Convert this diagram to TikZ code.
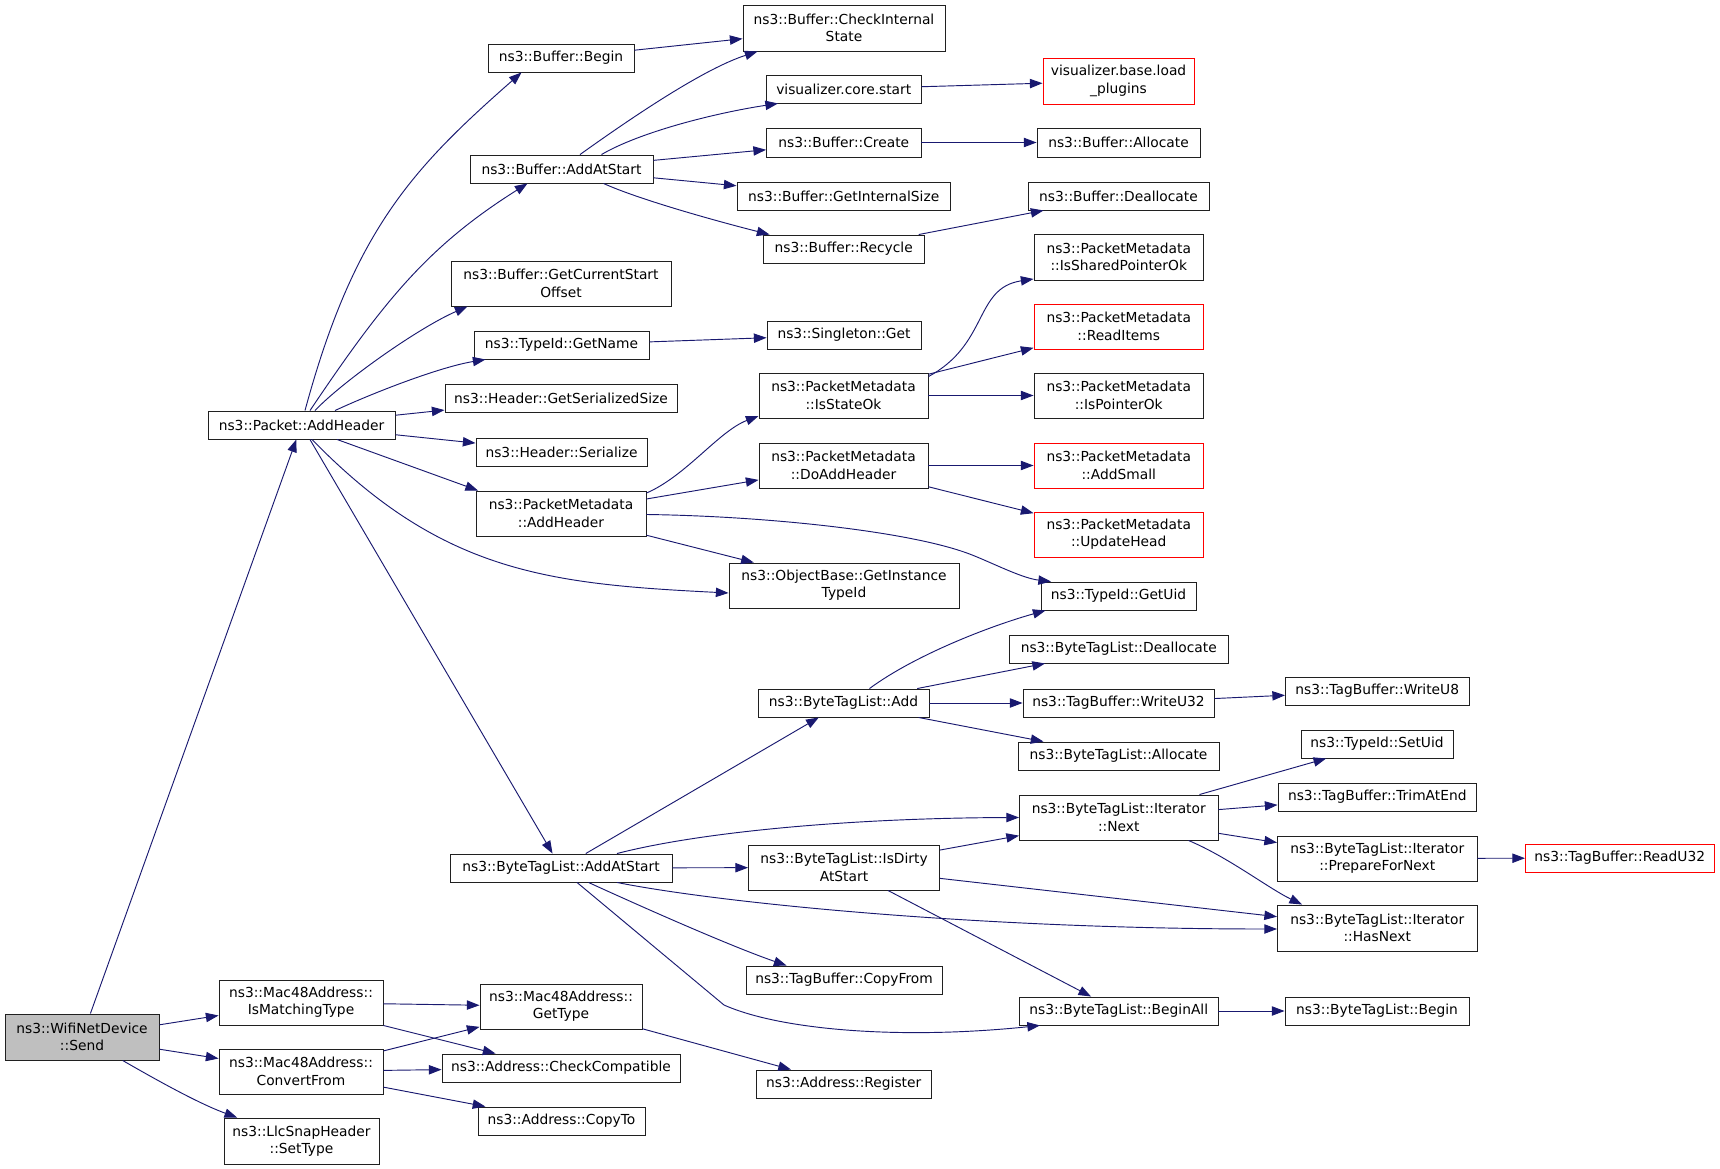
\documentclass[tikz,border=0pt]{standalone}
\usepackage{fontspec}
\setmainfont{DejaVu Sans}
\usetikzlibrary{arrows.meta,calc}
\definecolor{edgec}{HTML}{191970}
\definecolor{sendfill}{HTML}{BFBFBF}
\definecolor{boxc}{HTML}{202020}
\newcommand{\nd}[7]{\node[#1, minimum width={(#5-#3)*0.75pt}, minimum height={(#6-#4)*0.75pt}] (#2) at ({(#3+#5)/2},{(#4+#6)/2}) {#7};}
\begin{document}
\begin{tikzpicture}[x=0.75pt,y=-0.75pt,
  box/.style={draw=boxc, line width=0.7pt, fill=white, inner sep=0pt, align=center, font=\fontsize{10.35pt}{13pt}\selectfont},
  redbox/.style={box, draw=red},
  greybox/.style={box, fill=sendfill},
  e/.style={draw=edgec, line width=0.7pt, -{Triangle[length=9.5pt,width=7pt]}}]
\useasboundingbox (0,0) rectangle (1720,1169);
\fill[white] (0,0) rectangle (1720,1169);
% column 0/1
\nd{greybox}{send}{5}{1014}{159}{1060}{ns3::WifiNetDevice\\::Send}
\nd{box}{pah}{208}{411}{395}{439}{ns3::Packet::AddHeader}
\nd{box}{imt}{219}{980}{383}{1025}{ns3::Mac48Address::\\IsMatchingType}
\nd{box}{cvf}{219}{1049}{383}{1094}{ns3::Mac48Address::\\ConvertFrom}
\nd{box}{llc}{224}{1118}{379}{1164}{ns3::LlcSnapHeader\\::SetType}
% column 2
\nd{box}{bbeg}{488}{44}{634}{72}{ns3::Buffer::Begin}
\nd{box}{bads}{470}{155}{653}{183}{ns3::Buffer::AddAtStart}
\nd{box}{gcso}{451}{261}{671}{306}{ns3::Buffer::GetCurrentStart\\Offset}
\nd{box}{gname}{474}{331}{649}{359}{ns3::TypeId::GetName}
\nd{box}{gss}{445}{384}{677}{412}{ns3::Header::GetSerializedSize}
\nd{box}{hser}{476}{438}{647}{466}{ns3::Header::Serialize}
\nd{box}{pmah}{476}{491}{646}{536}{ns3::PacketMetadata\\::AddHeader}
\nd{box}{btlas}{450}{854}{672}{882}{ns3::ByteTagList::AddAtStart}
\nd{box}{gtype}{480}{984}{642}{1029}{ns3::Mac48Address::\\GetType}
\nd{box}{chk}{442}{1054}{680}{1082}{ns3::Address::CheckCompatible}
\nd{box}{cpto}{478}{1107}{645}{1135}{ns3::Address::CopyTo}
% column 3
\nd{box}{cis}{743}{5}{945}{51}{ns3::Buffer::CheckInternal\\State}
\nd{box}{vcs}{766.5}{75}{921}{103}{visualizer.core.start}
\nd{box}{bcre}{766.5}{128}{921}{157}{ns3::Buffer::Create}
\nd{box}{gis}{737}{182}{950.5}{210}{ns3::Buffer::GetInternalSize}
\nd{box}{brec}{763}{235}{924.5}{263}{ns3::Buffer::Recycle}
\nd{box}{sget}{767}{321}{921}{349}{ns3::Singleton::Get}
\nd{box}{iso}{759}{373}{928}{418}{ns3::PacketMetadata\\::IsStateOk}
\nd{box}{doah}{759}{443}{928}{488}{ns3::PacketMetadata\\::DoAddHeader}
\nd{box}{ogit}{729}{563}{959}{608}{ns3::ObjectBase::GetInstance\\TypeId}
\nd{box}{btladd}{758}{689}{929}{717}{ns3::ByteTagList::Add}
\nd{box}{ida}{748.5}{845}{939.5}{890}{ns3::ByteTagList::IsDirty\\AtStart}
\nd{box}{cpf}{746}{966}{942}{994}{ns3::TagBuffer::CopyFrom}
\nd{box}{areg}{756.5}{1070}{931}{1098}{ns3::Address::Register}
% column 4
\nd{redbox}{lpl}{1043}{58}{1194}{104}{visualizer.base.load\\\_plugins}
\nd{box}{balloc}{1037}{128}{1200}{157}{ns3::Buffer::Allocate}
\nd{box}{bdeal}{1028}{182}{1209}{210}{ns3::Buffer::Deallocate}
\nd{box}{ispo}{1034}{234}{1203.5}{280}{ns3::PacketMetadata\\::IsSharedPointerOk}
\nd{redbox}{ritems}{1034}{304}{1203.5}{349}{ns3::PacketMetadata\\::ReadItems}
\nd{box}{ipo}{1034}{373}{1203.5}{418}{ns3::PacketMetadata\\::IsPointerOk}
\nd{redbox}{asm}{1034}{443}{1203.5}{488}{ns3::PacketMetadata\\::AddSmall}
\nd{redbox}{uhead}{1034}{512}{1203.5}{557}{ns3::PacketMetadata\\::UpdateHead}
\nd{box}{guid}{1041}{582}{1196}{610}{ns3::TypeId::GetUid}
\nd{box}{btldeal}{1009}{635}{1228.5}{663}{ns3::ByteTagList::Deallocate}
\nd{box}{wu32}{1023}{689}{1214}{717}{ns3::TagBuffer::WriteU32}
\nd{box}{btlalloc}{1018}{742}{1219}{770}{ns3::ByteTagList::Allocate}
\nd{box}{next}{1019.5}{795}{1218}{840}{ns3::ByteTagList::Iterator\\::Next}
\nd{box}{ball}{1019.5}{997}{1218}{1025}{ns3::ByteTagList::BeginAll}
% column 5/6
\nd{box}{wu8}{1285.5}{677}{1469}{705}{ns3::TagBuffer::WriteU8}
\nd{box}{suid}{1301}{730}{1453}{758}{ns3::TypeId::SetUid}
\nd{box}{trim}{1278}{783}{1476.5}{811}{ns3::TagBuffer::TrimAtEnd}
\nd{box}{pfn}{1277.5}{836}{1477}{881}{ns3::ByteTagList::Iterator\\::PrepareForNext}
\nd{redbox}{rd32}{1525.5}{844}{1714}{872}{ns3::TagBuffer::ReadU32}
\nd{box}{hnext}{1277.5}{905}{1477}{951}{ns3::ByteTagList::Iterator\\::HasNext}
\nd{box}{btlbeg}{1285}{997}{1469}{1025}{ns3::ByteTagList::Begin}
% edges
\draw[e] (send) -- (pah);
\draw[e] (send) -- (imt);
\draw[e] (send) -- (cvf);
\draw[e] (send) .. controls (160,1082) and (200,1104) .. (llc);
\draw[e] ($(pah.north)+(3.5,0)$) .. controls (353.6,231) and (412,168.7) .. ($(bbeg.south west)+(34,0)$);
\draw[e] ($(pah.north)+(8.5,0)$) .. controls (383.7,301) and (428,246) .. ($(bads.south west)+(58,0)$);
\draw[e] ($(pah.north)+(13.5,0)$) .. controls (342,382) and (418,328) .. ($(gcso.south west)+(17,0)$);
\draw[e] ($(pah.north)+(33.5,0)$) .. controls (375,392) and (440,367) .. ($(gname.south west)+(12,0)$);
\draw[e] (pah) -- (gss);
\draw[e] (pah) -- (hser);
\draw[e] ($(pah.south)+(35.5,0)$) -- ($(pmah.north west)+(2.5,0)$);
\draw[e] ($(pah.south)+(10.5,0)$) .. controls (442,573) and (549,584) .. ($(ogit.west)+(0,7.5)$);
\draw[e] (pah) -- (btlas);
\draw[e] (bbeg) -- (cis);
\draw[e] ($(bads.north)+(18.5,0)$) .. controls (620,126) and (700,70) .. ($(cis.south west)+(15,0)$);
\draw[e] ($(bads.north)+(40,0)$) .. controls (640,132) and (715,113) .. ($(vcs.south west)+(12,0)$);
\draw[e] (bads) -- (bcre);
\draw[e] (bads) -- (gis);
\draw[e] ($(bads.south)+(42,0)$) .. controls (640,200) and (720,222) .. ($(brec.north west)+(7,0)$);
\draw[e] (vcs) -- (lpl);
\draw[e] (bcre) -- (balloc);
\draw[e] (brec) -- (bdeal);
\draw[e] (gname) -- (sget);
\draw[e] ($(pmah.north east)+(0,2.5)$) .. controls (686,476) and (719,431) .. ($(iso.west)+(0,20.5)$);
\draw[e] (pmah) -- (doah);
\draw[e] ($(pmah.east)+(0,1)$) .. controls (760,516) and (900,530) .. (964,552) .. controls (985,559) and (1020,578) .. ($(guid.north west)+(10.5,0)$);
\draw[e] (pmah) -- (ogit);
\draw[e] ($(iso.north east)+(0,4)$) .. controls (989,344) and (974,288) .. ($(ispo.south west)+(0,-1.5)$);
\draw[e] (iso) -- (ritems);
\draw[e] (iso) -- (ipo);
\draw[e] (doah) -- (asm);
\draw[e] (doah) -- (uhead);
\draw[e] (btlas) -- (btladd);
\draw[e] ($(btlas.north)+(56,0)$) .. controls (700,832) and (850,818) .. (next.west);
\draw[e] (btlas) -- (ida);
\draw[e] ($(btlas.south)+(56,0)$) .. controls (720,903) and (980,929) .. ($(hnext.west)+(0,1)$);
\draw[e] ($(btlas.south)+(27.5,0)$) .. controls (640,906) and (730,946) .. ($(cpf.north west)+(41,0)$);
\draw[e] ($(btlas.south)+(16,0)$) -- (724,1005) .. controls (780,1030) and (900,1040) .. ($(ball.south west)+(21,0)$);
\draw[e] ($(btladd.north)+(26,0)$) .. controls (915,655) and (990,626) .. ($(guid.south west)+(5,0)$);
\draw[e] (btladd) -- (btldeal);
\draw[e] (btladd) -- (wu32);
\draw[e] (btladd) -- (btlalloc);
\draw[e] (wu32) -- (wu8);
\draw[e] (next) -- (suid);
\draw[e] (next) -- (trim);
\draw[e] (next) -- (pfn);
\draw[e] ($(next.south east)+(-30,0)$) .. controls (1228,857) and (1268,888) .. ($(hnext.north west)+(25,0)$);
\draw[e] (ida) -- (next);
\draw[e] (ida) -- (hnext);
\draw[e] (ida) -- (ball);
\draw[e] (pfn) -- (rd32);
\draw[e] (ball) -- (btlbeg);
\draw[e] (imt) -- (gtype);
\draw[e] (imt.south east) -- ($(chk.north west)+(54,0)$);
\draw[e] (cvf) -- (gtype);
\draw[e] (cvf) -- (chk);
\draw[e] (cvf) -- (cpto);
\draw[e] (gtype) -- (areg);
\end{tikzpicture}
\end{document}
